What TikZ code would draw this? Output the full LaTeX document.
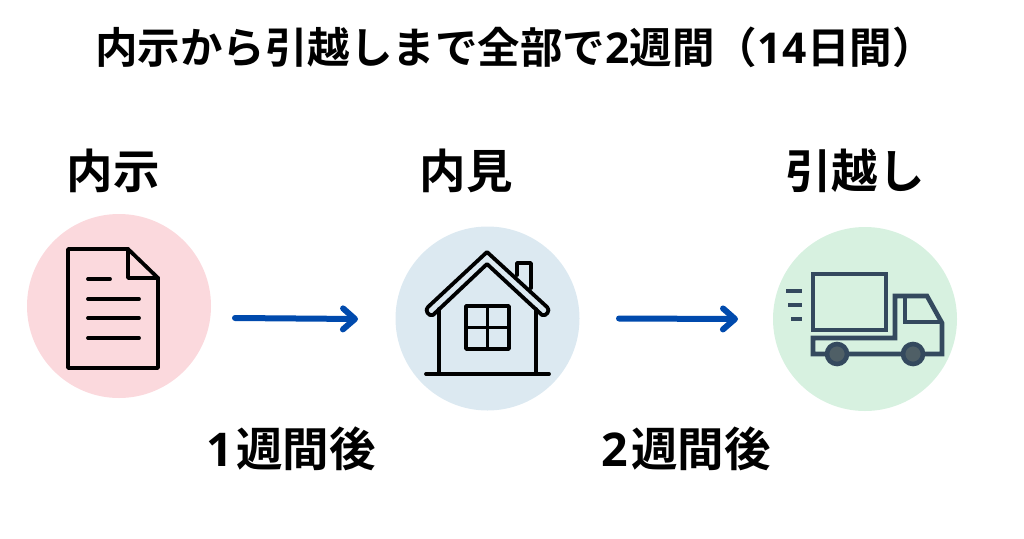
\documentclass[tikz,border=0pt]{standalone}
\usepackage{fontspec}
\setmainfont{Noto Sans CJK JP}[BoldFont={Noto Sans CJK JP Bold}]
\newfontfamily\digitfont[LetterSpace=4]{Open Sans}
\usepackage{xcolor}
\usetikzlibrary{arrows.meta}
\definecolor{pinkbg}{HTML}{FBD9DD}
\definecolor{bluebg}{HTML}{DCE9F1}
\definecolor{greenbg}{HTML}{D7F1E0}
\definecolor{arrowblue}{HTML}{004AAD}
\definecolor{truckblue}{HTML}{34495E}
\definecolor{wheelgray}{HTML}{4F5F66}

\begin{document}
\begin{tikzpicture}[
  x=1pt, y=-1pt,
  disc/.style={circle, draw=none, minimum size=184pt, inner sep=0pt},
  heading/.style={font=\fontsize{42.5}{48}\selectfont\bfseries, inner sep=0pt},
  label/.style={font=\fontsize{46.5}{52}\selectfont\bfseries, inner sep=0pt},
  arr/.style={-{Straight Barb[round, length=12pt, width=21pt]}, line width=6pt, line cap=round, arrowblue},
  ink/.style={line width=3.8pt, line join=round, line cap=round, black},
  truckline/.style={line width=4.6pt, line join=miter, truckblue},
]
\useasboundingbox (0,0) rectangle (1024,538);

\node[heading] (title) at (515,47) {内示から引越しまで全部で{\digitfont 2}週間（{\digitfont 14}日間）};

\node[disc, fill=pinkbg] (offer) at (119,306) {};
\node[disc, fill=bluebg] (viewing) at (487.5,318.5) {};
\node[disc, fill=greenbg] (moving) at (865,319) {};

\node[label] (offerlabel) at (113,171) {内示};
\node[label] (viewinglabel) at (466,171) {内見};
\node[label] (movinglabel) at (855,171) {引越し};
\node[label] (weekone) at (291,449) {{\digitfont 1}\kern3pt 週間後};
\node[label] (weektwo) at (686,449) {{\digitfont 2}\kern3pt 週間後};

% arrows
\coordinate (a1) at (235,318);
\coordinate (b1) at (358,319);
\coordinate (a2) at (619,318.5);
\coordinate (b2) at (738,319);
\draw[arr] (a1) -- (b1);
\draw[arr] (a2) -- (b2);

% document
\draw[ink] (68,249) -- (128,249) -- (158,278) -- (158,368) -- (68,368) -- cycle;
\draw[ink] (128,249) -- (128,278) -- (158,278);
\draw[ink] (88,279) -- (110,279);
\draw[ink] (88,299) -- (139,299);
\draw[ink] (88,318) -- (139,318);
\draw[ink] (88,338) -- (139,338);

% house
\draw[ink] (433,315) .. controls (429,317) and (424,310) .. (428,307) -- (487,252)
  -- (547,307) .. controls (551,310) and (546,317) .. (542,315) -- (487,264) -- cycle;
\draw[ink] (439,309) -- (439,374);
\draw[ink] (536,309) -- (536,374);
\draw[ink] (426,374) -- (549,374);
\draw[ink] (466,306) rectangle (509,349);
\draw[ink] (487.5,306) -- (487.5,349);
\draw[ink] (466,327.5) -- (509,327.5);
\draw[ink] (517,275) -- (517,263) -- (531,263) -- (531,288);

% truck
\draw[truckline] (813,274) rectangle (886,330);
\draw[truckline] (895,338) -- (813,338) -- (813,354) -- (942,354) -- (942,323) -- (927,296) -- (895,296) -- cycle;
\draw[truckline] (905,296) -- (905,322) -- (942,322);
\draw[truckline, fill=wheelgray] (837,354) circle (10pt);
\draw[truckline, fill=wheelgray] (913,354) circle (10pt);
\draw[truckline] (786,291) -- (802,291);
\draw[truckline] (788,305) -- (802,305);
\draw[truckline] (791,319) -- (802,319);
\end{tikzpicture}
\end{document}
